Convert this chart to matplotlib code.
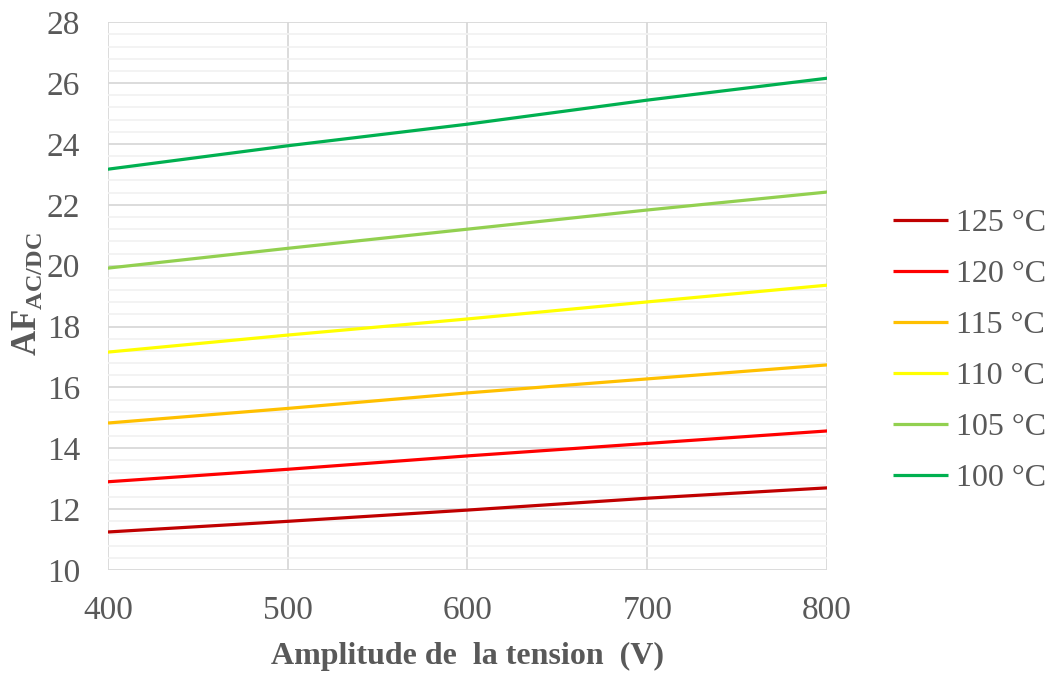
import matplotlib
matplotlib.use("Agg")
import matplotlib.pyplot as plt
from matplotlib.ticker import MultipleLocator

plt.rcParams['font.family'] = ['Liberation Serif', 'DejaVu Serif']
plt.rcParams['mathtext.fontset'] = 'custom'
plt.rcParams['mathtext.rm'] = 'Liberation Serif'
plt.rcParams['mathtext.bf'] = 'Liberation Serif:bold'

voltage = [400, 500, 600, 700, 800]
af_125 = [11.25, 11.60, 11.97, 12.36, 12.70]
af_120 = [12.90, 13.31, 13.75, 14.16, 14.57]
af_115 = [14.83, 15.31, 15.82, 16.28, 16.74]
af_110 = [17.16, 17.72, 18.25, 18.81, 19.36]
af_105 = [19.92, 20.57, 21.20, 21.83, 22.42]
af_100 = [23.17, 23.94, 24.65, 25.44, 26.16]

labels = ['125 °C', '120 °C', '115 °C', '110 °C', '105 °C', '100 °C']
colors = ['#c00000', '#ff0000', '#ffc000', '#ffff00', '#92d050', '#00b050']
series = [af_125, af_120, af_115, af_110, af_105, af_100]

text_col = '#595959'

fig = plt.figure(figsize=(10.47, 6.73), dpi=100)
ax = fig.add_axes([0.103, 0.153, 0.687, 0.814])

for vals, lab, col in zip(series, labels, colors):
    ax.plot(voltage, vals, color=col, lw=2.3, label=lab, solid_capstyle='butt')

ax.set_xlim(400, 800)
ax.set_ylim(10, 28)
ax.xaxis.set_major_locator(MultipleLocator(100))
ax.yaxis.set_major_locator(MultipleLocator(2))
ax.yaxis.set_minor_locator(MultipleLocator(0.4))
ax.grid(which='major', color='#d9d9d9', lw=1.3)
ax.grid(which='minor', axis='y', color='#f2f2f2', lw=1.3)
ax.set_axisbelow(True)
for s in ax.spines.values():
    s.set_visible(False)
ax.tick_params(which='both', length=0, labelsize=24, labelcolor=text_col)
ax.tick_params(axis='y', pad=20)
ax.tick_params(axis='x', pad=18)

ax.set_xlabel('Amplitude de  la tension  (V)', fontsize=23, fontweight='bold',
              color=text_col, labelpad=12)
fig.text(27 / 1047, 1 - 294 / 673, r'$\mathbf{AF}_{\mathbf{AC/DC}}$',
         fontsize=25, color=text_col, rotation=90, ha='center', va='center')

leg = ax.legend(loc='center left', bbox_to_anchor=(1.092, 0.4), frameon=False,
                fontsize=23, handlelength=1.7, handletextpad=0.25,
                labelspacing=0.68, borderpad=0, borderaxespad=0,
                labelcolor=text_col)

fig.savefig('out.png', dpi=100)
